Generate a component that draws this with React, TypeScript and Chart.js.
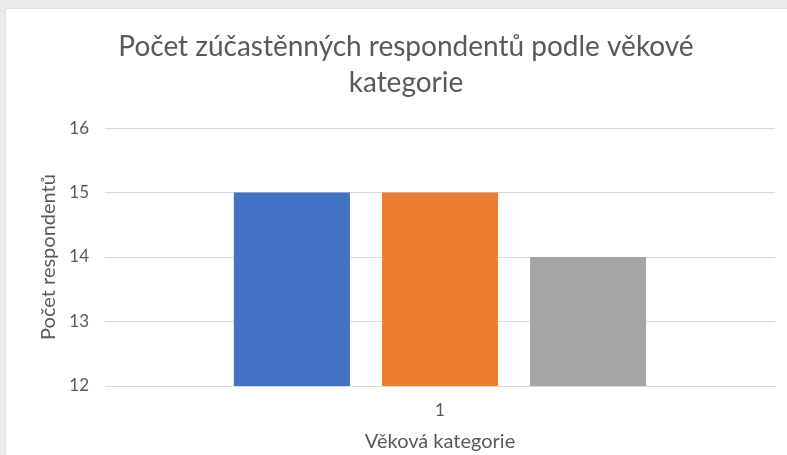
import React, { useEffect, useRef } from "react";
import { Chart, registerables } from "chart.js";

Chart.register(...registerables);

const categories = ["1"];
const seriesNames = ["Řada 1", "Řada 2", "Řada 3"];
const seriesValues = [[15], [15], [14]];
const seriesColors = ["#4472C4", "#ED7D31", "#A5A5A5"];
const titleLines = ["Počet zúčastěnných respondentů podle věkové", "kategorie"];
const yAxisTitle = "Počet respondentů";
const xAxisTitle = "Věková kategorie";
const yMin = 12;
const yMax = 16;

const FONT = "Lato, 'Open Sans', sans-serif";
const TEXT = "#595959";

export default function App() {
  const ref = useRef<HTMLCanvasElement | null>(null);

  useEffect(() => {
    if (!ref.current) return;
    const chart = new Chart(ref.current, {
      type: "bar",
      data: {
        labels: categories,
        datasets: seriesNames.map((name, i) => ({
          label: name,
          data: seriesValues[i],
          backgroundColor: seriesColors[i],
          borderWidth: 0,
          barPercentage: 0.784,
          categoryPercentage: 0.663,
        })),
      },
      options: {
        responsive: false,
        animation: false,
        layout: { padding: { left: 31, right: 25, top: 0, bottom: 0 } },
        plugins: {
          legend: { display: false },
          tooltip: { enabled: false },
          title: {
            display: true,
            text: titleLines,
            color: TEXT,
            font: { family: FONT, size: 28, weight: "normal", lineHeight: 1.286 },
            padding: { top: 20, bottom: 27 },
          },
        },
        scales: {
          x: {
            grid: { display: false, drawTicks: false },
            border: { display: true, color: "#d9d9d9", width: 1 },
            ticks: { color: TEXT, font: { family: FONT, size: 17 }, padding: 14 },
            title: {
              display: true,
              text: xAxisTitle,
              color: TEXT,
              font: { family: FONT, size: 20 },
              padding: { top: 0, bottom: 1 },
            },
            afterFit: (scale: any) => {
              scale.height = 69;
            },
          },
          y: {
            min: yMin,
            max: yMax,
            grid: { color: "#d9d9d9", drawTicks: false },
            border: { display: false },
            ticks: { stepSize: 1, color: TEXT, font: { family: FONT, size: 17 }, padding: 16 },
            title: {
              display: true,
              text: yAxisTitle,
              color: TEXT,
              font: { family: FONT, size: 20 },
              padding: { top: 0, bottom: 0 },
            },
            afterFit: (scale: any) => {
              scale.width = 68;
            },
          },
        },
      },
    });
    return () => chart.destroy();
  }, []);

  return (
    <div
      style={{
        position: "fixed",
        left: 0,
        top: 0,
        width: 787,
        height: 455,
        overflow: "hidden",
        background: "#ebebeb",
      }}
    >
      <div
        style={{
          position: "absolute",
          left: 6,
          top: 9,
          width: 794,
          height: 446,
          background: "#ffffff",
          boxShadow: "0 0 2px rgba(0,0,0,0.15)",
        }}
      >
        <canvas ref={ref} width={794} height={446} style={{ display: "block" }} />
      </div>
    </div>
  );
}
